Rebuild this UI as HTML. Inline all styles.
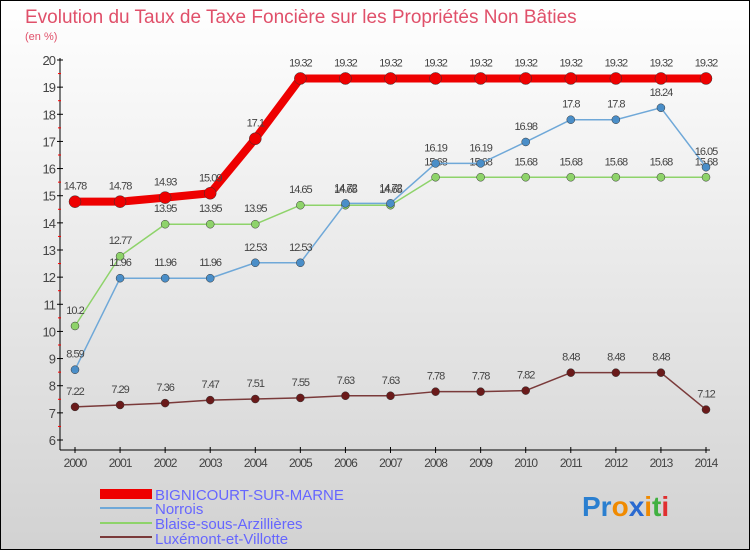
<!DOCTYPE html>
<html><head><meta charset="utf-8"><style>
html,body{margin:0;padding:0}
body{width:750px;height:550px;overflow:hidden;font-family:"Liberation Sans",sans-serif}
</style></head><body>
<svg width="750" height="550" xmlns="http://www.w3.org/2000/svg">
<defs><linearGradient id="bg" x1="0" y1="0" x2="0" y2="1"><stop offset="0" stop-color="#ffffff"/><stop offset="1" stop-color="#d2d2d2"/></linearGradient></defs>
<rect x="0.5" y="0.5" width="749" height="549" fill="url(#bg)" stroke="#000"/>
<text x="25" y="23" font-size="19" fill="#e0506a">Evolution du Taux de Taxe Foncière sur les Propriétés Non Bâties</text>
<text x="25" y="40" font-size="11" fill="#e0506a">(en %)</text>
<g id="axes"></g>
<g id="series"></g>
<g>
<rect x="100" y="489" width="52" height="10" fill="#ee0000"/>
<text x="155" y="500" font-size="15" fill="#6666ff">BIGNICOURT-SUR-MARNE</text>
<line x1="100" y1="508" x2="152" y2="508" stroke="#6fa8d8" stroke-width="2"/>
<text x="155" y="514" font-size="15" fill="#6666ff">Norrois</text>
<line x1="100" y1="523" x2="152" y2="523" stroke="#8ed36a" stroke-width="2"/>
<text x="155" y="529" font-size="15" fill="#6666ff">Blaise-sous-Arzillières</text>
<line x1="100" y1="537" x2="152" y2="537" stroke="#7a3a3a" stroke-width="2"/>
<text x="155" y="544" font-size="15" fill="#6666ff">Luxémont-et-Villotte</text>
</g>
<text x="582" y="516" font-size="28" font-weight="bold"><tspan fill="#2a7fd0">Pr</tspan><tspan fill="#f08a00">o</tspan><tspan fill="#2a6ad0">x</tspan><tspan fill="#f08a00">i</tspan><tspan fill="#40b040">t</tspan><tspan fill="#e03030">i</tspan></text>
</svg>
<script>
const years=["2000","2001","2002","2003","2004","2005","2006","2007","2008","2009","2010","2011","2012","2013","2014"];
const yTicks=[6,7,8,9,10,11,12,13,14,15,16,17,18,19,20];
const bignicourt=[14.78,14.78,14.93,15.09,17.1,19.32,19.32,19.32,19.32,19.32,19.32,19.32,19.32,19.32,19.32];
const norrois=[8.59,11.96,11.96,11.96,12.53,12.53,14.72,14.72,16.19,16.19,16.98,17.8,17.8,18.24,16.05];
const blaise=[10.2,12.77,13.95,13.95,13.95,14.65,14.65,14.65,15.68,15.68,15.68,15.68,15.68,15.68,15.68];
const luxemont=[7.22,7.29,7.36,7.47,7.51,7.55,7.63,7.63,7.78,7.78,7.82,8.48,8.48,8.48,7.12];
const NS="http://www.w3.org/2000/svg";
const X=i=>75+i*(631/14);
const Y=v=>440-(v-6)*(380/14);
function mk(t,a,p){const e=document.createElementNS(NS,t);for(const k in a)e.setAttribute(k,a[k]);p.appendChild(e);return e;}
const ax=document.getElementById('axes');
let l=mk('line',{x1:60,y1:58,x2:60,y2:450,stroke:'#000'},ax);


l=mk('line',{x1:60,y1:450,x2:710,y2:450,stroke:'#000'},ax);


yTicks.forEach(v=>{
  mk('line',{x1:57,y1:Y(v),x2:63,y2:Y(v),stroke:'#000'},ax);
  if(v<20)mk('line',{x1:58,y1:Y(v+0.5),x2:61,y2:Y(v+0.5),stroke:'#f00'},ax);
  const t=mk('text',{x:55,y:Y(v)+5,'text-anchor':'end','font-size':13,fill:'#444','letter-spacing':'-1'},ax);
  
  
  t.textContent=v;
});
years.forEach((y,i)=>{
  mk('line',{x1:X(i),y1:447,x2:X(i),y2:453,stroke:'#000'},ax);
  const t=mk('text',{x:X(i),y:467,'text-anchor':'middle','font-size':12,fill:'#444','letter-spacing':'-1'},ax);
  
  
  t.textContent=y;
});
const sg=document.getElementById('series');
function series(name,data,color,w,dot,dotc){
  const g=mk('g',{},sg);
  
  
  mk('polyline',{points:data.map((v,i)=>X(i)+','+Y(v)).join(' '),fill:'none',stroke:color,'stroke-width':w,'stroke-linejoin':'round'},g);
  data.forEach((v,i)=>{
    const c=mk('circle',{cx:X(i),cy:Y(v),r:dot,fill:dotc,stroke:'#333','stroke-width':0.5},g);
    
    
    const t=mk('text',{x:X(i),y:Y(v)-12,'text-anchor':'middle','font-size':11,fill:'#444','letter-spacing':'-1'},g);
    
    
    t.textContent=String(v);
  });
}
series('luxemont',luxemont,'#7a3a3a',1.5,4,'#6a1a1a');
series('blaise',blaise,'#8ed36a',1.5,4,'#8ed36a');
series('norrois',norrois,'#6fa8d8',1.5,4,'#4a8ec8');
series('bignicourt',bignicourt,'#ee0000',8,6,'#ee0000');
</script>
</body></html>
